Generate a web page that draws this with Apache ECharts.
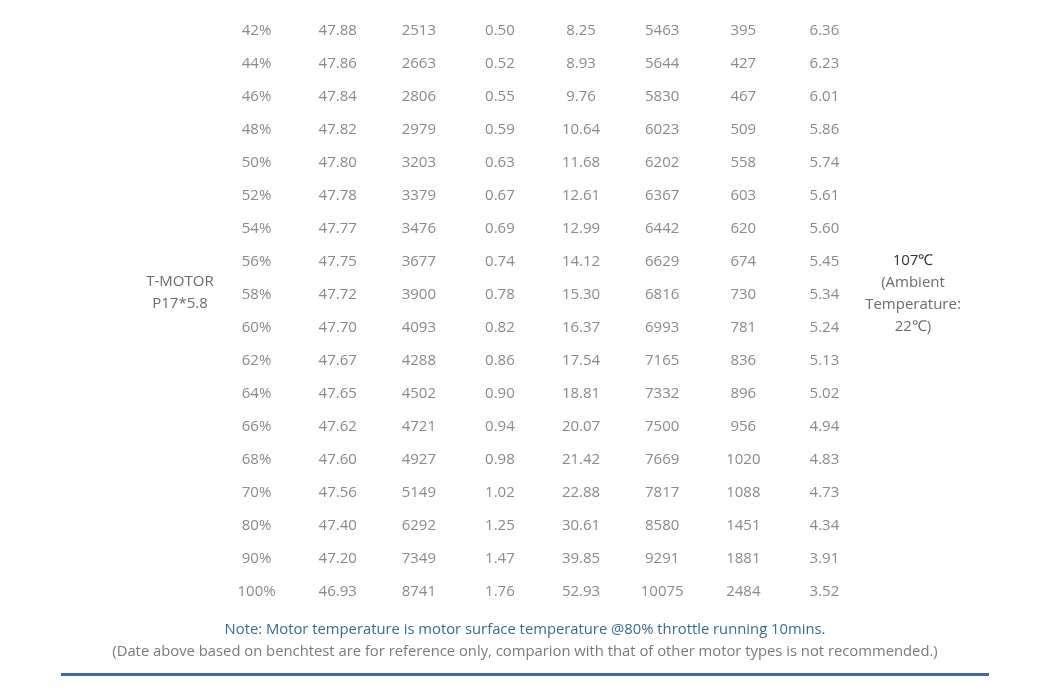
<!DOCTYPE html>
<html><head><meta charset="utf-8">
<script src="https://cdn.jsdelivr.net/npm/echarts@6/dist/echarts.min.js"></script>
<style>html,body{margin:0;background:#fff}#c{width:1050px;height:700px}</style>
</head><body><div id="c"></div>
<script>
var throttle = ["42%","44%","46%","48%","50%","52%","54%","56%","58%","60%","62%","64%","66%","68%","70%","80%","90%","100%"];
var voltage = ["47.88","47.86","47.84","47.82","47.80","47.78","47.77","47.75","47.72","47.70","47.67","47.65","47.62","47.60","47.56","47.40","47.20","46.93"];
var thrust = ["2513","2663","2806","2979","3203","3379","3476","3677","3900","4093","4288","4502","4721","4927","5149","6292","7349","8741"];
var torque = ["0.50","0.52","0.55","0.59","0.63","0.67","0.69","0.74","0.78","0.82","0.86","0.90","0.94","0.98","1.02","1.25","1.47","1.76"];
var current = ["8.25","8.93","9.76","10.64","11.68","12.61","12.99","14.12","15.30","16.37","17.54","18.81","20.07","21.42","22.88","30.61","39.85","52.93"];
var rpm = ["5463","5644","5830","6023","6202","6367","6442","6629","6816","6993","7165","7332","7500","7669","7817","8580","9291","10075"];
var power = ["395","427","467","509","558","603","620","674","730","781","836","896","956","1020","1088","1451","1881","2484"];
var efficiency = ["6.36","6.23","6.01","5.86","5.74","5.61","5.60","5.45","5.34","5.24","5.13","5.02","4.94","4.83","4.73","4.34","3.91","3.52"];
var columns = [throttle, voltage, thrust, torque, current, rpm, power, efficiency];
var colNames = ["c0","c1","c2","c3","c4","c5","c6","c7"];

var cells = [];
columns.forEach(function (col, ci) {
  col.forEach(function (v, ri) { cells.push([ci, ri, v]); });
});
var F = '"Open Sans", sans-serif';
var chart = echarts.init(document.getElementById('c'));
chart.setOption({
  backgroundColor: '#fff',
  grid: { left: 216, right: 185, top: 14.5, bottom: 91.5 },
  xAxis: { type: 'category', data: colNames, show: false },
  yAxis: { type: 'category', data: throttle, inverse: true, show: false },
  series: [{
    type: 'scatter', symbolSize: 0, data: cells, silent: true,
    label: { show: true, position: 'inside', formatter: function (p) { return p.data[2]; },
      color: '#6b6b6b', fontSize: 15, fontFamily: F }
  }],
  graphic: [
    { type: 'text', x: 180, y: 293, style: { text: 'T-MOTOR\nP17*5.8', fill: '#6b6b6b', font: '15px ' + F, align: 'center', verticalAlign: 'middle', lineHeight: 22 } },
    { type: 'text', x: 913, y: 261, style: { text: '107℃', fill: '#333', font: '15px ' + F, align: 'center', verticalAlign: 'middle' } },
    { type: 'text', x: 913, y: 305, style: { text: '(Ambient\nTemperature:\n22℃)', fill: '#6b6b6b', font: '15px ' + F, align: 'center', verticalAlign: 'middle', lineHeight: 22 } },
    { type: 'text', x: 525, y: 630, style: { text: 'Note: Motor temperature is motor surface temperature @80% throttle running 10mins.', fill: '#3a6a90', font: '14.8px ' + F, align: 'center', verticalAlign: 'middle' } },
    { type: 'text', x: 525, y: 652, style: { text: '(Date above based on benchtest are for reference only, comparion with that of other motor types is not recommended.)', fill: '#7a7a7a', font: '14.8px ' + F, align: 'center', verticalAlign: 'middle' } },
    { type: 'rect', shape: { x: 61, y: 673, width: 928, height: 3 }, style: { fill: '#3d6a99' } }
  ]
});
</script></body></html>
